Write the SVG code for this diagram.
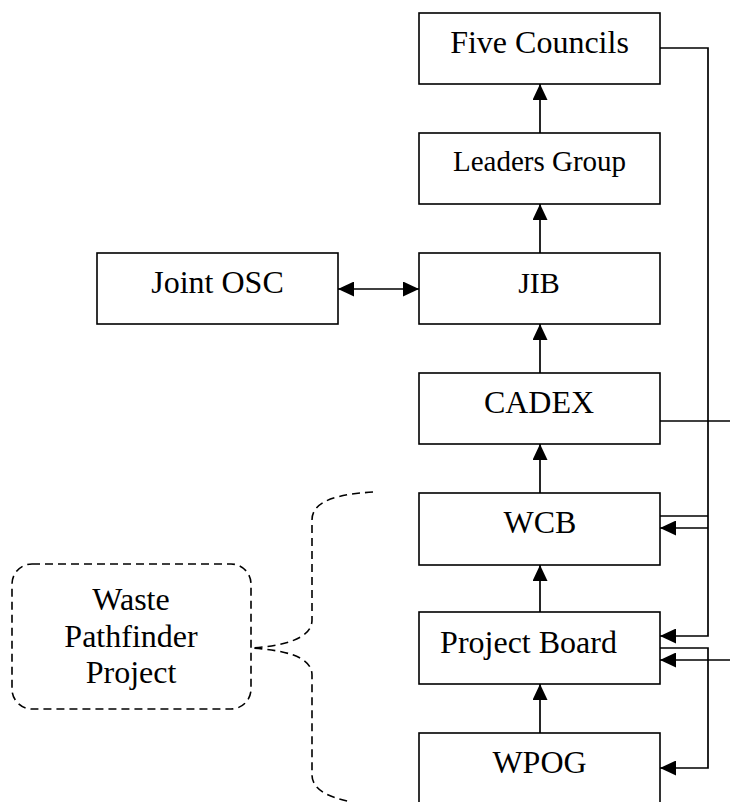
<svg xmlns="http://www.w3.org/2000/svg" width="730" height="802" viewBox="0 0 730 802">
  <defs>
    <marker id="ah" markerUnits="userSpaceOnUse" markerWidth="16" markerHeight="15" viewBox="0 0 16 15" refX="16" refY="7.5" orient="auto-start-reverse">
      <path d="M0,0 L16,7.5 L0,15 z" fill="#000"/>
    </marker>
    <style>
      .box { fill: #fff; stroke: #000; stroke-width: 1.6; }
      .lbl { font-family: "Liberation Serif", "Times New Roman", serif; font-size: 32px; fill: #000; text-anchor: middle; }
      .conn { fill: none; stroke: #000; stroke-width: 1.7; }
      .dash { fill: none; stroke: #000; stroke-width: 1.6; stroke-dasharray: 8 5; }
    </style>
  </defs>
  <rect width="730" height="802" fill="#fff"/>

  <g id="connectors">
    <path class="conn" d="M540,133 V84" marker-end="url(#ah)"/>
    <path class="conn" d="M540,253 V204" marker-end="url(#ah)"/>
    <path class="conn" d="M540,373 V324" marker-end="url(#ah)"/>
    <path class="conn" d="M540,493 V444" marker-end="url(#ah)"/>
    <path class="conn" d="M540,612 V565" marker-end="url(#ah)"/>
    <path class="conn" d="M540,733 V684" marker-end="url(#ah)"/>
    <path class="conn" d="M338,289 H419" marker-start="url(#ah)" marker-end="url(#ah)"/>
    <path class="conn" d="M660,48 H708 V636 H660" marker-end="url(#ah)"/>
    <path class="conn" d="M708,528 H660" marker-end="url(#ah)"/>
    <path class="conn" d="M660,516 H708"/>
    <path class="conn" d="M660,421 H730"/>
    <path class="conn" d="M660,648 H708 V768 H660" marker-end="url(#ah)"/>
    <path class="conn" d="M730,660 H660" marker-end="url(#ah)"/>
    <path class="dash" d="M373,492 C340,494 312,500 312,520 L312,620 C312,640 280,646 252,648 C280,650 312,655 312,675 L312,775 C312,790 330,798 352,802"/>
  </g>

  <g id="five-councils">
    <rect class="box" x="419" y="13" width="241" height="71"/>
    <text class="lbl" x="539.5" y="53">Five Councils</text>
  </g>
  <g id="leaders-group">
    <rect class="box" x="419" y="133" width="241" height="71"/>
    <text class="lbl" x="539.5" y="171" style="font-size:29px">Leaders Group</text>
  </g>
  <g id="jib">
    <rect class="box" x="419" y="253" width="241" height="71"/>
    <text class="lbl" x="539" y="293" style="font-size:30px">JIB</text>
  </g>
  <g id="joint-osc">
    <rect class="box" x="97" y="253" width="241" height="71"/>
    <text class="lbl" x="217.5" y="293">Joint OSC</text>
  </g>
  <g id="cadex">
    <rect class="box" x="419" y="373" width="241" height="71"/>
    <text class="lbl" x="539" y="413">CADEX</text>
  </g>
  <g id="wcb">
    <rect class="box" x="419" y="493" width="241" height="72"/>
    <text class="lbl" x="540" y="533">WCB</text>
  </g>
  <g id="project-board">
    <rect class="box" x="419" y="612" width="241" height="72"/>
    <text class="lbl" x="528.5" y="653">Project Board</text>
  </g>
  <g id="wpog">
    <rect class="box" x="419" y="733" width="241" height="80"/>
    <text class="lbl" x="539.5" y="773">WPOG</text>
  </g>
  <g id="waste-pathfinder-project">
    <rect class="dash" x="12" y="564" width="239" height="145" rx="20" ry="20"/>
    <text class="lbl" x="131" y="610">Waste</text>
    <text class="lbl" x="131" y="647">Pathfinder</text>
    <text class="lbl" x="131" y="683">Project</text>
  </g>
</svg>
